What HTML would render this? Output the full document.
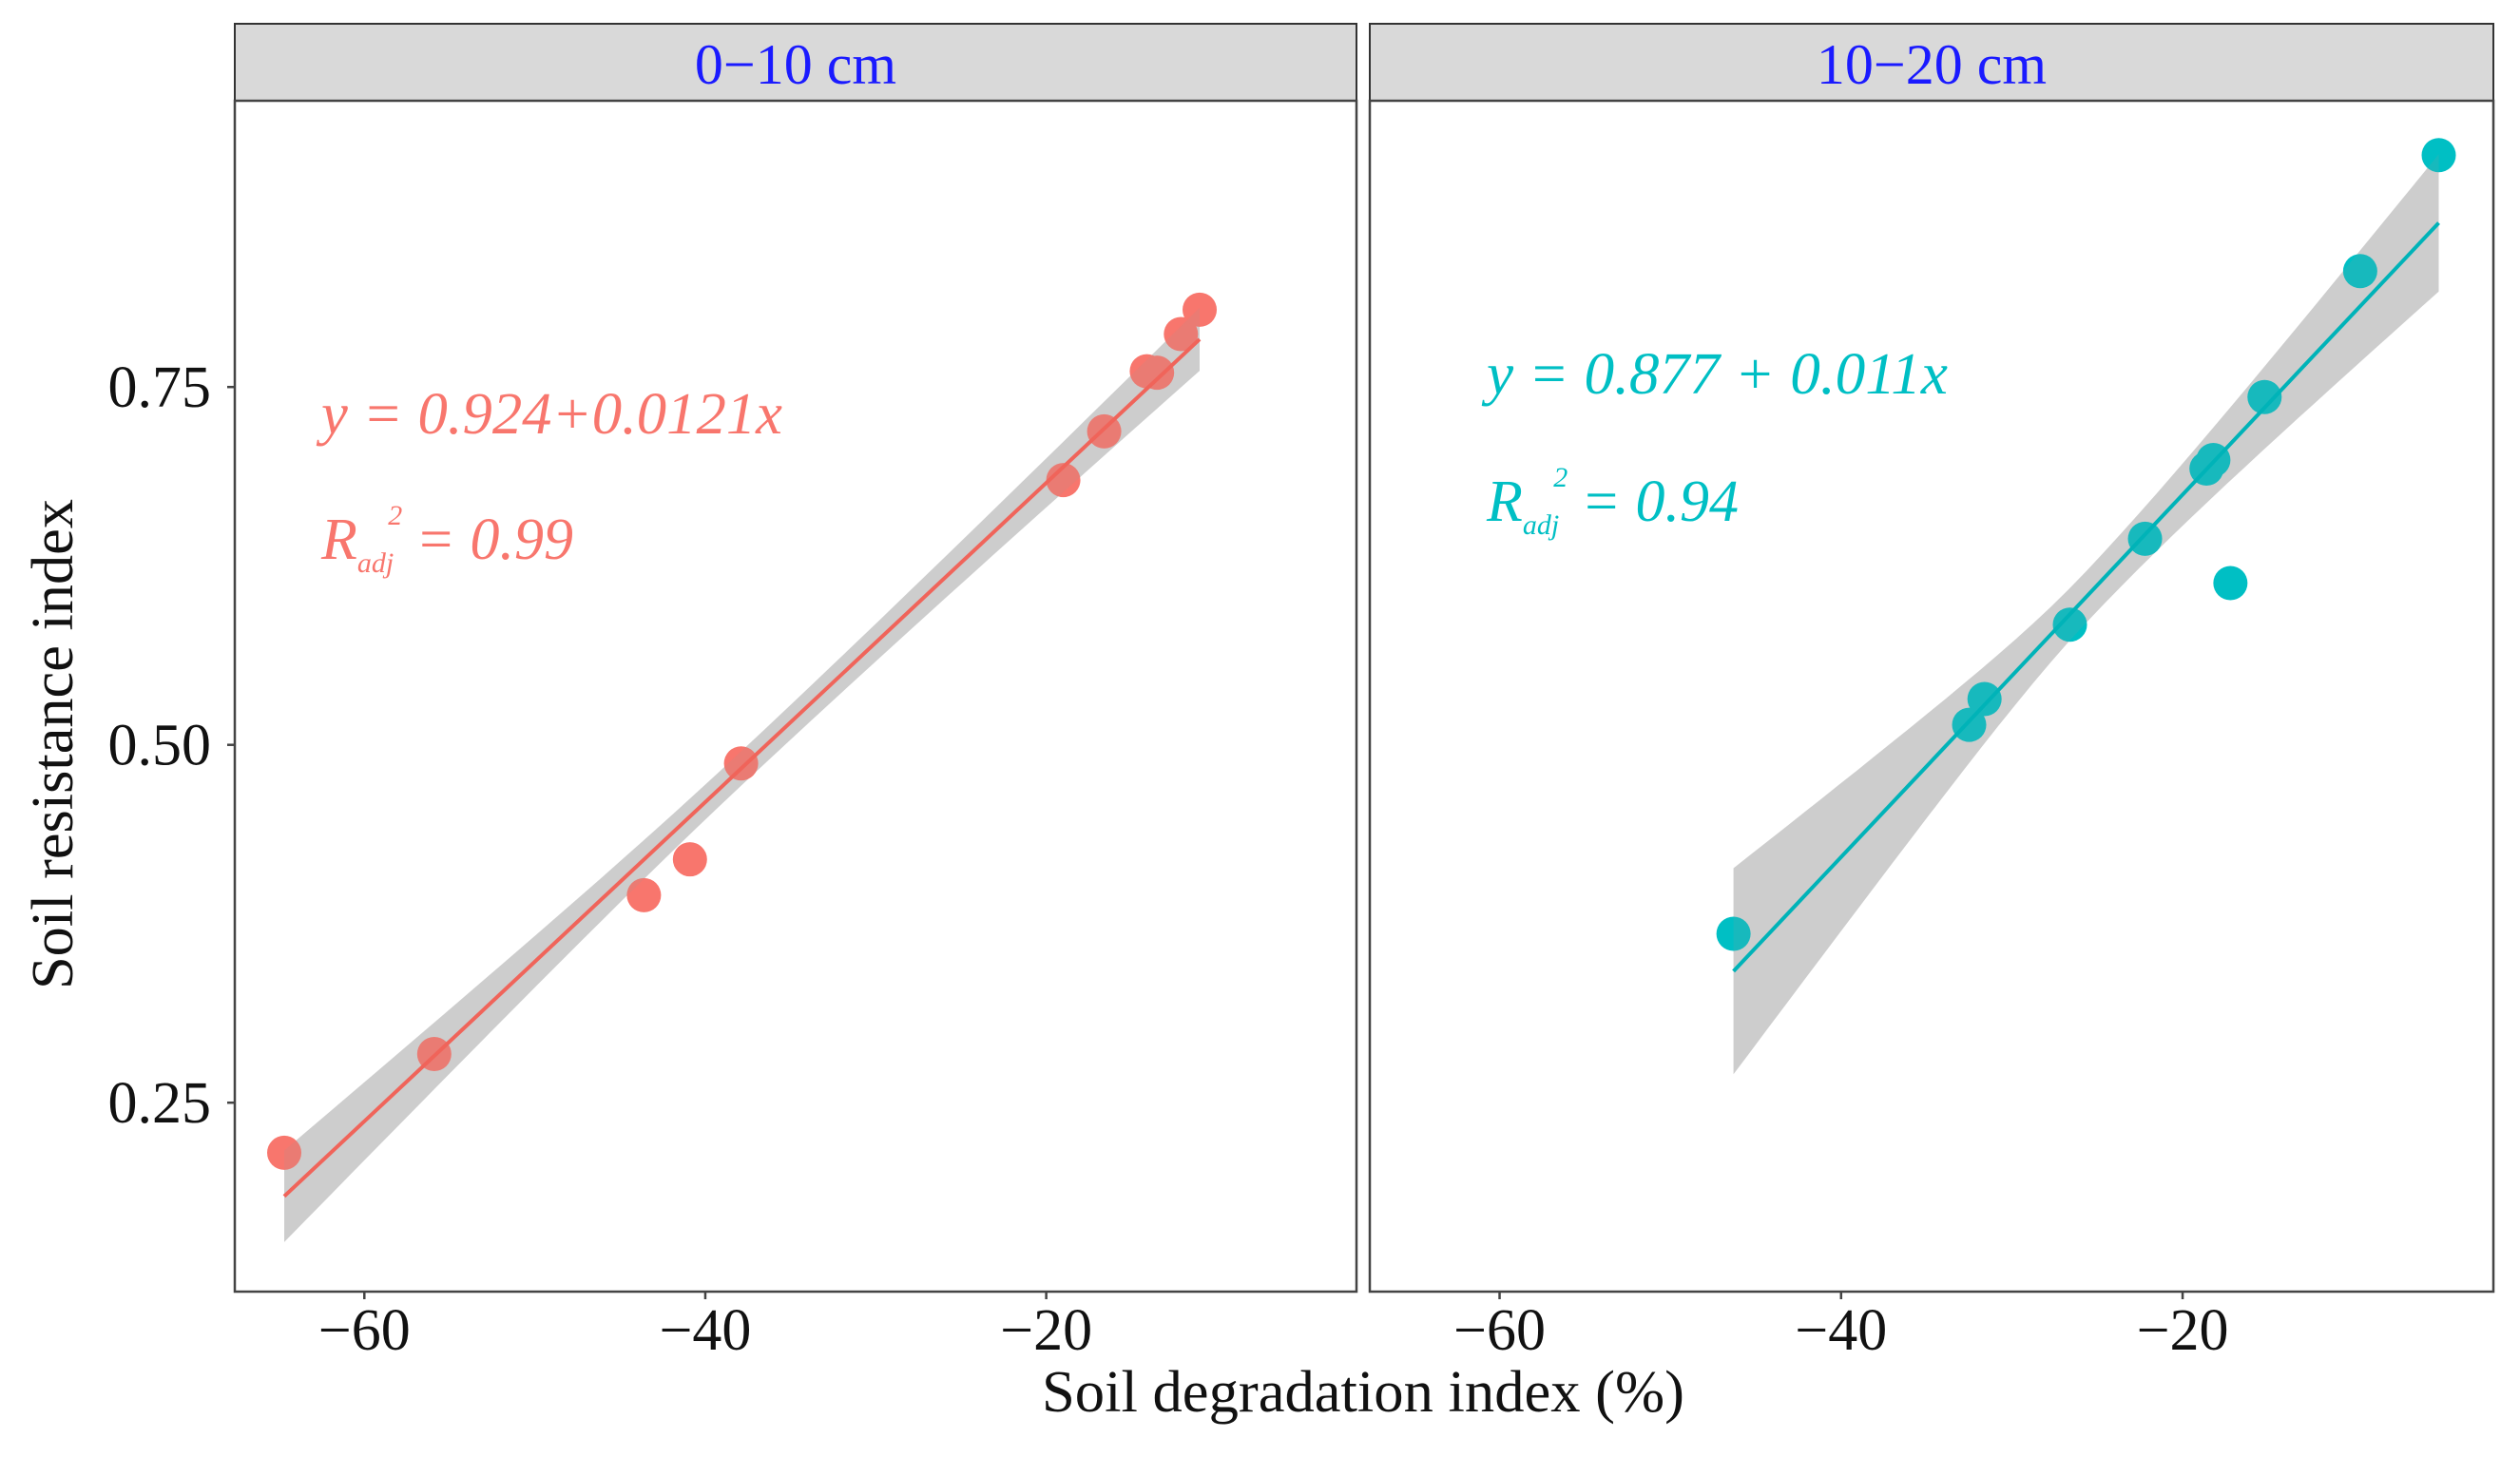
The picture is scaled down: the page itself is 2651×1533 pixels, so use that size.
<!DOCTYPE html>
<html><head><meta charset="utf-8"><style>
html,body{margin:0;padding:0;background:#fff;}
svg{display:block;font-family:"Liberation Serif",serif;}
</style></head><body>
<svg id="chart" width="2651" height="1533" viewBox="0 0 2651 1533" xmlns="http://www.w3.org/2000/svg"></svg>
<script>
// ---- data ----
const panelTitles = ["0\u221210 cm", "10\u221220 cm"];
const xTicks = [-60, -40, -20];
const yTicks = [0.25, 0.50, 0.75];
const yTickLabels = ["0.25", "0.50", "0.75"];
const x0_10 = [-64.7, -55.9, -43.6, -40.9, -37.9, -19.0, -16.6, -14.1, -13.5, -12.1, -11.0];
const y0_10 = [0.215, 0.284, 0.395, 0.420, 0.487, 0.685, 0.719, 0.761, 0.760, 0.787, 0.804];
const x10_20 = [-46.3, -32.5, -31.6, -26.6, -22.2, -18.6, -18.2, -17.2, -15.2, -9.6, -5.0];
const y10_20 = [0.368, 0.514, 0.532, 0.584, 0.644, 0.693, 0.699, 0.613, 0.743, 0.831, 0.912];
const fit0_10 = [0.906, 0.01115];   // intercept, slope (as drawn)
const fit10_20 = [0.928, 0.01266];
const band0_10 = [0.012, 0.032, 0.022];  // half-width: middle, left end, right end
const band10_20 = [0.018, 0.072, 0.048];
const eqLabels = ["y = 0.924+0.0121x", "y = 0.877 + 0.011x"];
const r2Labels = ["= 0.99", "= 0.94"];

// ---- layout ----
const NS = "http://www.w3.org/2000/svg";
const svg = document.getElementById("chart");
const panels = [{l:247,r:1427},{l:1441,r:2623}];
const stripTop = 25, plotTop = 106, plotBottom = 1359;
const xMin = -67.6, xMax = -1.8, yMin = 0.118, yMax = 0.95;
const colors = ["#F8766D", "#00BFC4"];
const lineColors = ["#F0645A", "#00B3B8"];
function el(tag, attrs, parent){const e=document.createElementNS(NS,tag);for(const k in attrs)e.setAttribute(k,attrs[k]);(parent||svg).appendChild(e);return e;}
function yS(v){return plotBottom-(v-yMin)/(yMax-yMin)*(plotBottom-plotTop);}
function xS(p,v){return p.l+(v-xMin)/(xMax-xMin)*(p.r-p.l);}

const xsAll=[x0_10,x10_20], ysAll=[y0_10,y10_20], fits=[fit0_10,fit10_20], bands=[band0_10,band10_20];

panels.forEach((p,i)=>{
  const g=el("g",{});
  
  
  const strip=el("rect",{x:p.l,y:stripTop,width:p.r-p.l,height:plotTop-stripTop,fill:"#d9d9d9",stroke:"#333",'stroke-width':2},g);
  
  
  const st=el("text",{x:(p.l+p.r)/2,y:88,'text-anchor':'middle','font-size':60,fill:"#1a1aff"},g);
  st.textContent=panelTitles[i];
  
  
  const cp=el("clipPath",{id:"clip"+i},g);
  el("rect",{x:p.l,y:plotTop,width:p.r-p.l,height:plotBottom-plotTop},cp);
  const inner=el("g",{'clip-path':`url(#clip${i})`},g);
  const xs=xsAll[i], ys=ysAll[i], f=fits[i], b=bands[i];
  const xa=Math.min(...xs), xb=Math.max(...xs), xm=(xa+xb)/2;
  const N=40, up=[], lo=[];
  for(let k=0;k<=N;k++){
    const xv=xa+(xb-xa)*k/N;
    const t=(xv-xm)/((xb-xa)/2);
    const end=t<0?b[1]:b[2];
    const h=Math.sqrt(b[0]*b[0]+(end*end-b[0]*b[0])*t*t);
    const yv=f[0]+f[1]*xv;
    up.push([xS(p,xv),yS(yv+h)]); lo.push([xS(p,xv),yS(yv-h)]);
  }
  const pts=up.concat(lo.reverse()).map(q=>q[0].toFixed(1)+","+q[1].toFixed(1)).join(" ");
  const band=el("polygon",{points:pts,fill:"#d2d2d2",'fill-opacity':0.9},inner);
  
  
  xs.forEach((xv,j)=>{
    const c=el("circle",{cx:xS(p,xv),cy:yS(ys[j]),r:18,fill:colors[i]},inner);
    
    
  });
  el("polygon",{points:pts,fill:"#999",'fill-opacity':0.15},inner);
  const ln=el("line",{x1:xS(p,xa),y1:yS(f[0]+f[1]*xa),x2:xS(p,xb),y2:yS(f[0]+f[1]*xb),stroke:lineColors[i],'stroke-width':4},inner);
  
  
  const fr=el("rect",{x:p.l,y:plotTop,width:p.r-p.l,height:plotBottom-plotTop,fill:"none",stroke:"#444",'stroke-width':2.5},g);
  
  
  xTicks.forEach(t=>{
    const x=xS(p,t);
    el("line",{x1:x,y1:plotBottom,x2:x,y2:plotBottom+8,stroke:"#444",'stroke-width':2.5},g);
    const tl=el("text",{x:x,y:1420,'text-anchor':'middle','font-size':62,fill:"#111"},g);
    tl.textContent="\u2212"+Math.abs(t);
    
    
  });
  const ax=i===0?338:1564, ay=i===0?456:414, ry=i===0?588:548;
  const eq=el("text",{x:ax,y:ay,'font-size':62,'font-style':'italic',fill:colors[i],textLength:485,lengthAdjust:'spacingAndGlyphs'},g);
  eq.textContent=eqLabels[i];
  
  
  const rt=el("text",{x:ax,y:ry,'font-size':62,'font-style':'italic',fill:colors[i]},g);
  
  
  const s1=el("tspan",{},rt); s1.textContent="R";
  const s2=el("tspan",{'font-size':30,dy:14},rt); s2.textContent="adj";
  const s3=el("tspan",{'font-size':30,dy:-50,dx:-6},rt); s3.textContent="2";
  const s4=el("tspan",{dy:36,dx:14},rt); s4.textContent=r2Labels[i];
});
yTicks.forEach((t,k)=>{
  const y=yS(t);
  el("line",{x1:239,y1:y,x2:247,y2:y,stroke:"#444",'stroke-width':2.5});
  const tl=el("text",{x:222,y:y+21,'text-anchor':'end','font-size':62,fill:"#111"});
  tl.textContent=yTickLabels[k];
  
  
});
const xt=el("text",{x:1434,y:1485,'text-anchor':'middle','font-size':62,fill:"#111",textLength:676,lengthAdjust:'spacingAndGlyphs'});
xt.textContent="Soil degradation index (%)";


const yt=el("text",{x:0,y:0,'text-anchor':'middle','font-size':62,fill:"#111",textLength:516,lengthAdjust:'spacingAndGlyphs',transform:'translate(76,783) rotate(-90)'});
yt.textContent="Soil resistance index";


</script>
</body></html>
